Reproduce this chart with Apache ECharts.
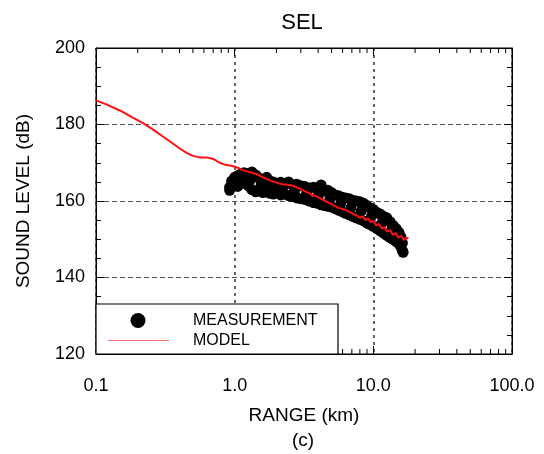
<!DOCTYPE html>
<html>
<head>
<meta charset="utf-8">
<script src="https://cdn.jsdelivr.net/npm/echarts@6/dist/echarts.min.js"></script>
<style>
  html, body { margin: 0; padding: 0; background: #fff; }
  #chart { width: 544px; height: 454px; }
</style>
</head>
<body>
<div id="chart"></div>
<script>
// ---- data ----
const chartTitle = 'SEL';
const xAxisTitle = 'RANGE (km)';
const yAxisTitle = 'SOUND LEVEL (dB)';
const panelTag = '(c)';
const legendNames = ['MEASUREMENT', 'MODEL'];

const xMin = 0.1, xMax = 100;
const yMin = 120, yMax = 200, yStep = 20;
const xMinorTicks = [0.2,0.3,0.4,0.5,0.6,0.7,0.8,0.9, 2,3,4,5,6,7,8,9, 20,30,40,50,60,70,80,90];

// model (red line): range in km, level in dB
const modelRange = [0.10,0.12,0.15,0.18,0.22,0.26,0.30,0.35,0.40,0.45,0.50,0.56,0.63,0.70,0.78,0.85,0.95,
  1.05,1.15,1.30,1.45,1.60,1.80,2.00,2.20,2.50,2.80,3.20,3.60,4.00,4.50,5.00,5.60,6.30,7.00,7.60,8.00,
  8.4,8.8,9.2,9.6,10.0,10.5,11.0,11.5,12.0,12.6,13.2,13.8,14.5,15.2,15.9,16.6,17.3,17.9];
const modelLevel = [186.3,185.2,183.6,182.0,180.3,178.6,177.0,175.3,173.8,172.6,171.8,171.4,171.4,171.0,170.0,169.5,169.2,
  168.7,168.0,167.5,167.0,166.2,165.4,164.8,164.4,164.2,163.6,162.6,161.7,161.0,160.0,159.2,158.2,157.7,156.8,156.2,155.6,
  156.0,155.0,155.4,154.4,154.8,153.6,154.0,152.8,153.2,152.0,152.4,151.2,151.6,150.4,150.9,149.8,150.4,150.2];

// measurement (black dots): upper edge, lower edge and middle of the band
const measRange = [
  0.92,0.92,0.95,1.00,1.00,1.05,1.05,1.10,1.10,1.17,1.17,1.25,1.25,1.33,1.33,1.42,1.42,1.50,1.50,
  1.60,1.60,1.70,1.70,1.80,1.80,1.90,1.90,2.00,2.00,2.15,2.15,2.30,2.30,2.45,2.45,2.60,2.60,2.80,2.80,
  3.00,3.00,3.20,3.20,3.45,3.45,3.70,3.70,3.95,3.95,4.20,4.20,4.45,4.45,4.70,4.70,5.00,5.00,5.30,5.30,
  5.60,5.60,5.95,5.95,6.30,6.30,6.70,6.70,7.10,7.10,7.50,7.50,8.00,8.00,8.50,8.50,9.00,9.00,9.50,9.50,
  10.0,10.0,10.6,10.6,11.2,11.2,11.8,11.8,12.5,12.5,13.2,13.2,13.9,13.9,14.6,14.6,15.3,15.3,15.8,15.8,
  16.2,16.2,16.4,
  1.08,1.30,1.55,1.85,2.20,2.70,3.30,4.00,4.85,5.80,6.90,8.20,9.70,11.5,13.5,15.0];
const measLevel = [
  163.6,162.8,165.2,166.2,164.0,166.6,163.8,167.0,164.5,167.4,165.2,167.2,164.0,167.6,163.0,166.8,162.4,166.0,162.8,
  165.6,162.2,166.2,162.6,165.2,162.0,165.0,161.8,164.6,162.2,164.9,161.6,164.4,161.8,165.0,161.4,164.2,161.2,164.4,160.8,
  164.0,160.6,163.8,160.4,163.4,160.0,163.6,159.6,163.0,159.4,164.2,159.0,162.6,158.8,162.8,158.6,162.2,158.4,161.6,158.0,
  161.4,157.6,161.0,157.2,160.8,156.8,160.6,156.4,160.2,156.0,160.0,155.6,159.8,155.2,159.4,154.8,158.8,154.2,158.2,153.8,
  157.8,153.4,157.0,152.8,156.6,152.2,156.0,151.6,155.6,151.0,154.6,150.4,153.6,150.0,152.8,149.4,151.8,148.8,150.6,148.0,
  149.0,147.0,146.6,
  165.4,165.6,164.2,163.6,163.2,162.6,162.0,161.2,160.4,159.2,158.2,157.4,156.0,154.2,152.4,150.6];

// ---- chart ----
const measData = measRange.map((r, i) => [r, measLevel[i]]);
const modelData = modelRange.map((r, i) => [r, modelLevel[i]]);
const minorTickData = xMinorTicks.map(v => [v, yMin]);

const FONT = '"Liberation Sans", Arial, Helvetica, sans-serif';
const G = { left: 96, top: 48, width: 416, height: 306 };
const MINOR_LEN = 5;

const chart = echarts.init(document.getElementById('chart'), null, { renderer: 'canvas' });

const baseLog = { type: 'log', logBase: 10, min: xMin, max: xMax, gridIndex: 0 };

chart.setOption({
  animation: false,
  backgroundColor: '#fff',
  grid: { left: G.left, top: G.top, width: G.width, height: G.height, show: true,
          borderColor: '#000', borderWidth: 1, backgroundColor: 'transparent' },
  xAxis: [
    Object.assign({}, baseLog, {
      position: 'bottom',
      name: xAxisTitle, nameLocation: 'middle', nameGap: 52,
      nameTextStyle: { fontFamily: FONT, fontSize: 19, color: '#000' },
      axisLine: { show: true, lineStyle: { color: '#000', width: 1 } },
      axisTick: { show: true, inside: true, length: 8, lineStyle: { color: '#000' } },
      axisLabel: { fontFamily: FONT, fontSize: 18, color: '#000', margin: 23,
                   formatter: v => Number(v).toFixed(1) },
      splitLine: { show: true, lineStyle: { color: '#333', type: [3, 4], width: 1.5 } }
    }),
    Object.assign({}, baseLog, {
      position: 'top',
      axisLine: { show: true, lineStyle: { color: '#000', width: 1 } },
      axisTick: { show: true, inside: true, length: 8, lineStyle: { color: '#000' } },
      axisLabel: { show: false }, splitLine: { show: false }
    })
  ],
  yAxis: [
    {
      type: 'value', min: yMin, max: yMax, interval: yStep, position: 'left',
      name: yAxisTitle, nameLocation: 'middle', nameGap: 63,
      nameTextStyle: { fontFamily: FONT, fontSize: 19, color: '#000' },
      axisLine: { show: true, lineStyle: { color: '#000', width: 1 } },
      axisTick: { show: true, inside: true, length: 8, lineStyle: { color: '#000' } },
      minorTick: { show: true, splitNumber: 4, length: 5, lineStyle: { color: '#000' } },
      axisLabel: { fontFamily: FONT, fontSize: 18, color: '#000', margin: 11 },
      splitLine: { show: true, lineStyle: { color: '#555', type: [5, 3], width: 1 } }
    },
    {
      type: 'value', min: yMin, max: yMax, interval: yStep, position: 'right',
      axisLine: { show: true, lineStyle: { color: '#000', width: 1 } },
      axisTick: { show: true, inside: true, length: 8, lineStyle: { color: '#000' } },
      minorTick: { show: true, splitNumber: 4, length: 5, lineStyle: { color: '#000' } },
      axisLabel: { show: false }, splitLine: { show: false }
    }
  ],
  series: [
    {
      // log-decade minor ticks (2..9) on bottom and top frame
      type: 'custom', xAxisIndex: 0, yAxisIndex: 0, silent: true, clip: false, z: 5,
      data: minorTickData,
      encode: { x: 0, y: 1 },
      renderItem: function (params, api) {
        const v = api.value(0);
        const pb = api.coord([v, yMin]);
        const pt = api.coord([v, yMax]);
        const st = { stroke: '#000', lineWidth: 1 };
        return {
          type: 'group',
          children: [
            { type: 'line', shape: { x1: pb[0], y1: pb[1], x2: pb[0], y2: pb[1] - MINOR_LEN }, style: st },
            { type: 'line', shape: { x1: pt[0], y1: pt[1], x2: pt[0], y2: pt[1] + MINOR_LEN }, style: st }
          ]
        };
      }
    },
    {
      name: legendNames[0], type: 'scatter', xAxisIndex: 0, yAxisIndex: 0,
      data: measData, symbol: 'circle', symbolSize: 11,
      itemStyle: { color: '#000', opacity: 1, borderWidth: 0 }, z: 3
    },
    {
      name: legendNames[1], type: 'line', xAxisIndex: 0, yAxisIndex: 0,
      data: modelData, showSymbol: false, symbol: 'none',
      lineStyle: { color: '#ff1010', width: 2 }, z: 4
    }
  ],
  graphic: [
    { type: 'text', z: 100, style: { x: 302, y: 23, text: chartTitle, font: '22px ' + FONT,
      fill: '#000', textAlign: 'center', textVerticalAlign: 'middle' } },
    { type: 'text', z: 100, style: { x: 303, y: 441, text: panelTag, font: '19px ' + FONT,
      fill: '#000', textAlign: 'center', textVerticalAlign: 'middle' } },
    { type: 'rect', z: 100, shape: { x: 96, y: 304, width: 242, height: 50 },
      style: { fill: '#fff', stroke: '#000', lineWidth: 1.2 } },
    { type: 'circle', z: 101, shape: { cx: 138, cy: 320.5, r: 7.5 }, style: { fill: '#000' } },
    { type: 'line', z: 101, shape: { x1: 108, y1: 340.5, x2: 169, y2: 340.5 },
      style: { stroke: '#ff7070', lineWidth: 1 } },
    { type: 'text', z: 101, style: { x: 193, y: 321, text: legendNames[0], font: '16px ' + FONT,
      fill: '#000', textVerticalAlign: 'middle' } },
    { type: 'text', z: 101, style: { x: 193, y: 341, text: legendNames[1], font: '16px ' + FONT,
      fill: '#000', textVerticalAlign: 'middle' } }
  ]
});
</script>
</body>
</html>
